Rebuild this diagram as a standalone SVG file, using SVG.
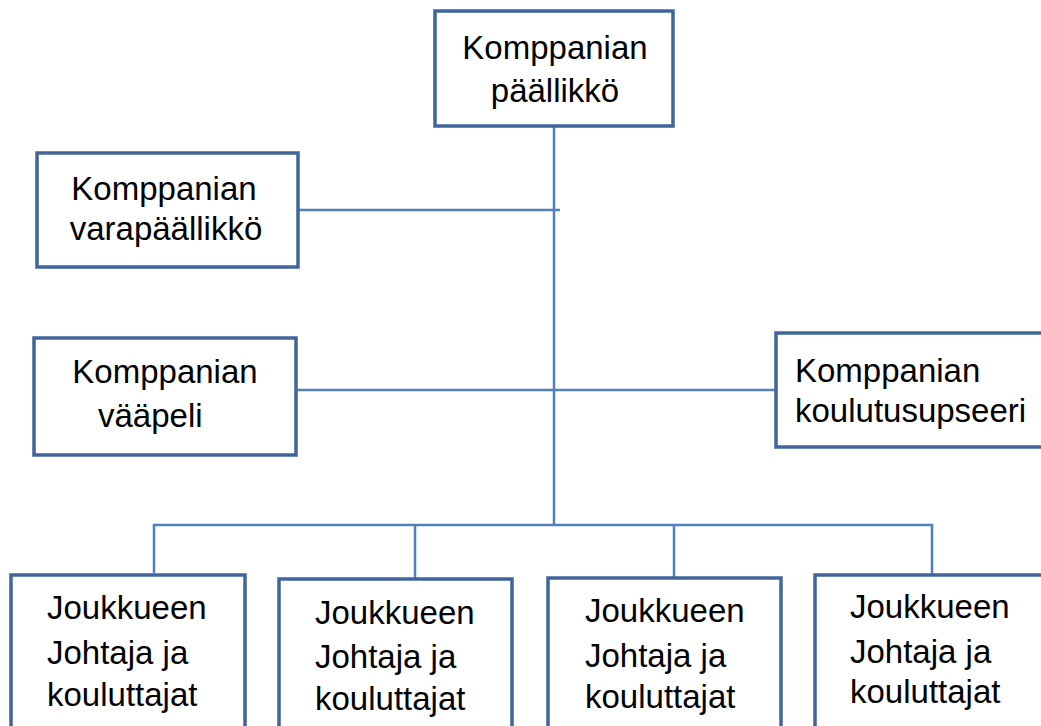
<svg xmlns="http://www.w3.org/2000/svg" width="1041" height="726" viewBox="0 0 1041 726">
<style>
.box{fill:#ffffff;stroke:#41659a;stroke-width:3.5}
.c{fill:none;stroke:#4f81bd;stroke-width:2.5}
text{font-family:"Liberation Sans",Arial,sans-serif;font-size:33px;fill:#000}
.m{text-anchor:middle}
</style>
<rect width="1041" height="726" fill="#ffffff"/>
<g id="connectors">
<line class="c" x1="554" y1="126" x2="554" y2="525"/>
<line class="c" x1="299" y1="210" x2="560" y2="210"/>
<line class="c" x1="296" y1="390" x2="776" y2="390"/>
<polyline class="c" points="154,573 154,525 932,525 932,574"/>
<line class="c" x1="415" y1="525" x2="415" y2="578"/>
<line class="c" x1="674" y1="525" x2="674" y2="578"/>
</g>
<g id="n-paallikko">
<rect class="box" x="435" y="11" width="238" height="115"/>
<text class="m" x="555" y="59">Komppanian</text>
<text class="m" x="555" y="102">päällikkö</text>
</g>
<g id="n-varapaallikko">
<rect class="box" x="37" y="153" width="261" height="114"/>
<text class="m" x="164" y="200">Komppanian</text>
<text class="m" x="166" y="240">varapäällikkö</text>
</g>
<g id="n-vaapeli">
<rect class="box" x="34" y="338" width="262" height="117"/>
<text class="m" x="165" y="383">Komppanian</text>
<text x="98" y="427">vääpeli</text>
</g>
<g id="n-koulutusupseeri">
<rect class="box" x="776" y="333" width="290" height="114"/>
<text x="795" y="382">Komppanian</text>
<text x="795" y="422">koulutusupseeri</text>
</g>
<g id="n-joukkue1">
<rect class="box" x="11" y="575" width="234" height="170"/>
<text x="47" y="619">Joukkueen</text>
<text x="47" y="664">Johtaja ja</text>
<text x="47" y="706">kouluttajat</text>
</g>
<g id="n-joukkue2">
<rect class="box" x="279" y="579" width="233" height="170"/>
<text x="315" y="624">Joukkueen</text>
<text x="315" y="668">Johtaja ja</text>
<text x="315" y="710">kouluttajat</text>
</g>
<g id="n-joukkue3">
<rect class="box" x="548" y="578" width="233" height="170"/>
<text x="585" y="622">Joukkueen</text>
<text x="585" y="667">Johtaja ja</text>
<text x="585" y="708">kouluttajat</text>
</g>
<g id="n-joukkue4">
<rect class="box" x="815" y="575" width="240" height="170"/>
<text x="850" y="618">Joukkueen</text>
<text x="850" y="663">Johtaja ja</text>
<text x="850" y="703">kouluttajat</text>
</g>
</svg>
